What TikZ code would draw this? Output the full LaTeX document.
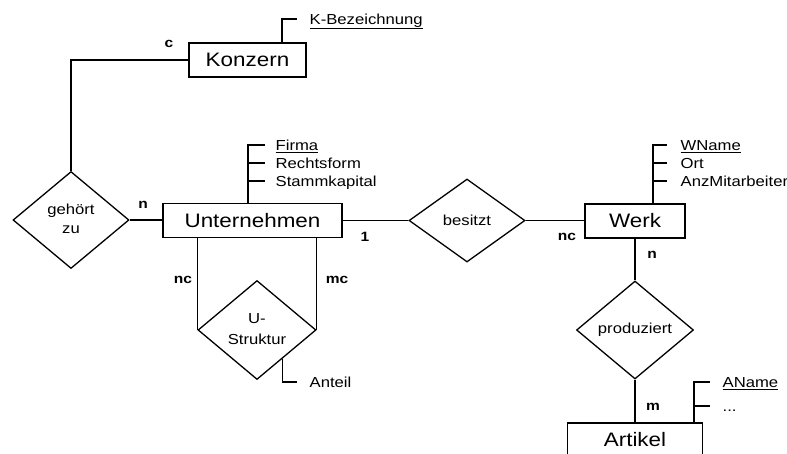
\documentclass[tikz,border=0pt]{standalone}
\usepackage{fontspec}
\setmainfont{Liberation Sans}
\usetikzlibrary{shapes.geometric,calc}
\newcommand\hs[1]{\scalebox{1.15}[1]{#1}}
\newcommand\hstack[1]{\hs{\begin{tabular}{@{}c@{}}#1\end{tabular}}}
\begin{document}
\begin{tikzpicture}[x=1pt,y=-1pt,line width=1.3pt,
  entity/.style={draw,rectangle,minimum width=#1,minimum height=34pt,inner sep=0pt,font=\fontsize{19.5}{22}\selectfont},
  rel/.style={draw,diamond,inner sep=0pt,font=\fontsize{14.5}{19}\selectfont},
  attr/.style={anchor=base west,inner sep=0pt,font=\fontsize{14.5}{16}\selectfont},
  card/.style={inner sep=0pt,font=\bfseries\fontsize{13.5}{16}\selectfont}]
\useasboundingbox (0,0) rectangle (787,453);
\clip (0,0) rectangle (787,453);
% entities
\node[entity=117pt] (konzern) at (247.5,60) {\hs{Konzern}};
\node[entity=179pt] (unternehmen) at (252.5,220.5) {\hs{Unternehmen}};
\node[entity=100pt] (werk) at (635,221) {\hs{Werk}};
\node[entity=135pt] (artikel) at (635,440) {\hs{Artikel}};
% relationships
\node[rel,minimum width=116pt,minimum height=97pt] (gehoert) at (71,220) {\hstack{gehört\\zu}};
\node[rel,minimum width=116pt,minimum height=83pt] (besitzt) at (467,220.5) {\hs{besitzt}};
\node[rel,minimum width=118pt,minimum height=99pt] (ustruktur) at (257,330) {\hstack{U-\\[2pt]Struktur}};
\node[rel,minimum width=117pt,minimum height=98pt] (produziert) at (635,330) {\hs{produziert}};
% connectors
\draw (konzern.west) -| (gehoert.north);
\draw (gehoert.east) -- (gehoert.east -| unternehmen.west);
\draw (unternehmen.east |- besitzt.west) -- (besitzt.west);
\draw (besitzt.east) -- (besitzt.east -| werk.west);
\draw (werk.south) -- (produziert.north);
\draw (produziert.south) -- (artikel.north);
\draw (ustruktur.west |- unternehmen.south) -- (ustruktur.west);
\draw (ustruktur.east |- unternehmen.south) -- (ustruktur.east);
% cardinalities
\node[card] (cK) at (169,44) {\hs{c}};
\node[card] (cG) at (143,205) {\hs{n}};
\node[card] (cB) at (365,237) {\hs{1}};
\node[card] (cW) at (567,237) {\hs{nc}};
\node[card] (cP) at (652,255) {\hs{n}};
\node[card] (cA) at (653,407) {\hs{m}};
\node[card] (cU1) at (183,280) {\hs{nc}};
\node[card] (cU2) at (337,280) {\hs{mc}};
% attributes Konzern
\coordinate (kA) at (konzern.north -| 282,0);
\coordinate (kT) at (282,19);
\draw (kA) -- (kT) -- ++(15,0);
\node[attr] (kbez) at (309,24) {\hs{\underline{K-Bezeichnung}}};
% attributes Unternehmen
\coordinate (uA) at (unternehmen.north -| 248,0);
\coordinate (uT) at (248,145);
\draw (uA) -- (uT) -- ++(17,0);
\draw (248,163) -- ++(17,0);
\draw (248,181) -- ++(17,0);
\node[attr] (firma) at (275,150.5) {\hs{\underline{Firma}}};
\node[attr] (rform) at (275,168.5) {\hs{Rechtsform}};
\node[attr] (skap) at (275,186.5) {\hs{Stammkapital}};
% attributes Werk
\coordinate (wA) at (werk.north -| 653,0);
\coordinate (wT) at (653,145);
\draw (wA) -- (wT) -- ++(14,0);
\draw (653,163) -- ++(14,0);
\draw (653,181) -- ++(14,0);
\node[attr] (wname) at (680,150.5) {\hs{\underline{WName}}};
\node[attr] (ort) at (680,168.5) {\hs{Ort}};
\node[attr] (anz) at (680,186.5) {\hs{AnzMitarbeiter}};
% attributes Artikel
\coordinate (aA) at (artikel.north -| 694,0);
\coordinate (aT) at (694,382);
\draw (aA) -- (aT) -- ++(16,0);
\draw (694,406) -- ++(16,0);
\node[attr] (aname) at (722,387.5) {\hs{\underline{AName}}};
\node[attr] (dots) at (722,411.5) {\hs{...}};
% attribute U-Struktur
\coordinate (sA) at ($(ustruktur.east)!0.576!(ustruktur.south)$);
\draw (sA) |- (297,382);
\node[attr] (anteil) at (309,387.5) {\hs{Anteil}};
\end{tikzpicture}
\end{document}
